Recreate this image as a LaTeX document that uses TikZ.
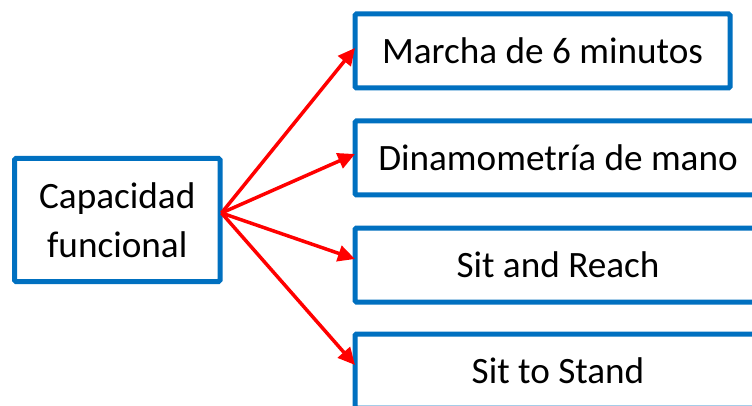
\documentclass[tikz,border=0pt]{standalone}
\usepackage{fontspec}
\setmainfont{Carlito}
\usetikzlibrary{arrows.meta}
\definecolor{boxblue}{HTML}{0070C0}
\definecolor{arrred}{HTML}{FF0000}
\tikzset{
  testbox/.style={draw=boxblue, line width=5pt, rounded corners=1.5pt, fill=white,
    inner sep=0pt, minimum height=74pt, font=\fontsize{37.2}{49}\selectfont, text=black},
  conn/.style={draw=arrred, line width=3.5pt, -{Triangle[length=17pt,width=16pt]}}
}
\begin{document}
\begin{tikzpicture}[x=1pt,y=-1pt]
\useasboundingbox (0,0) rectangle (752,406);
\clip (0,0) rectangle (752,406);
\fill[white] (0,0) rectangle (752,406);
\node[testbox, minimum width=205.5pt, minimum height=123pt, align=center] (cap) at (117.25,220) {Capacidad\\funcional};
\node[testbox, minimum width=375pt] (b1) at (542.5,51) {Marcha de 6 minutos};
\node[testbox, minimum width=406pt] (b2) at (558,158) {Dinamometría de mano};
\node[testbox, minimum width=406pt] (b3) at (558,265) {Sit and Reach};
\node[testbox, minimum width=406pt] (b4) at (558,371) {Sit to Stand};
\coordinate (o) at ([xshift=-1pt,yshift=7pt]cap.east);
\draw[conn] (o) -- ([xshift=2.5pt,yshift=3pt]b1.west);
\draw[conn] (o) -- ([xshift=2.5pt,yshift=4pt]b2.west);
\draw[conn] (o) -- ([xshift=2.5pt,yshift=6pt]b3.west);
\draw[conn] (o) -- ([xshift=2.5pt,yshift=6pt]b4.west);
\end{tikzpicture}
\end{document}
